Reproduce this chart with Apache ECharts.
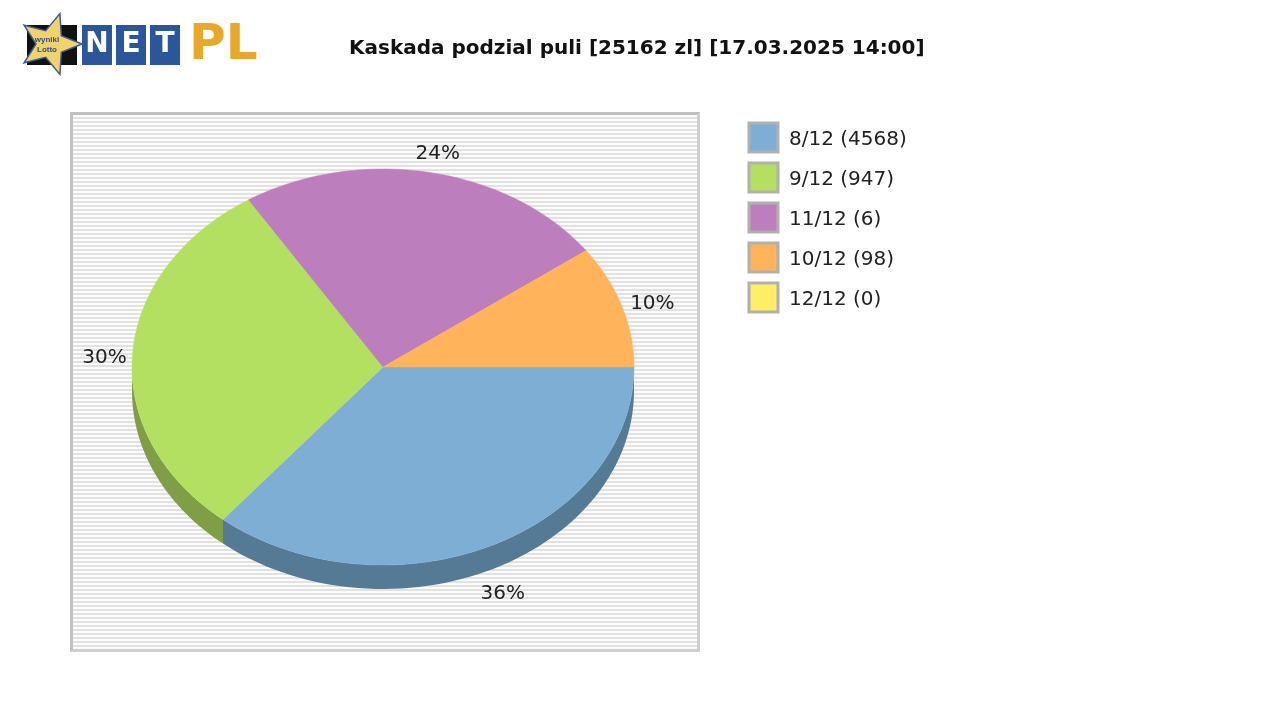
<!DOCTYPE html>
<html><head><meta charset="utf-8">
<script src="https://cdn.jsdelivr.net/npm/echarts@6/dist/echarts.min.js"></script>
<style>
body{margin:0;background:#fff}
#plotbg{position:absolute;left:70px;top:112px;width:624px;height:534px;border-left:3px solid #c0c0c0;border-top:3px solid #c0c0c0;border-right:3px solid #d0d0d0;border-bottom:3px solid #d0d0d0;
background:repeating-linear-gradient(to bottom,#fbfbfb 0,#fbfbfb 2px,#e2e2e2 2px,#e2e2e2 4px)}
#chart{position:absolute;left:0;top:0;width:1280px;height:720px}
</style></head>
<body>
<div id="plotbg"></div>
<div id="chart"></div>
<script>
var names = ['8/12 (4568)', '9/12 (947)', '11/12 (6)', '10/12 (98)', '12/12 (0)'];
var shares = [36, 30, 24, 10, 0];
var topColors = ['#7EAED4', '#B3E060', '#BD7EBD', '#FFB35A', '#FFEE66'];
var sideColors = ['#557A96', '#7F9E45', '#86598A', '#B57F40', '#B5A948'];

var cx = 383, cy = 367, rx = 251, ry = 198, depth = 24;
var FONT = '"DejaVu Sans", Verdana, sans-serif';
var total = shares.reduce(function (a, b) { return a + b; }, 0);
var starts = [], acc = 0;
shares.forEach(function (v) { starts.push(acc / total * 360); acc += v; });

function pt(deg, dy) {
    var r = deg * Math.PI / 180;
    return [cx + rx * Math.cos(r), cy + ry * Math.sin(r) + (dy || 0)];
}
function arc(a0, a1, dy) {
    var pts = [], n = Math.max(2, Math.ceil((a1 - a0) / 2));
    for (var i = 0; i <= n; i++) pts.push(pt(a0 + (a1 - a0) * i / n, dy));
    return pts;
}

var chart = echarts.init(document.getElementById('chart'));

var legend = [];
names.forEach(function (n, i) {
    legend.push({ type: 'rect', shape: { x: 749, y: 123 + i * 40, width: 29, height: 29 },
        style: { fill: topColors[i], stroke: '#b0b0b0', lineWidth: 3 } });
    legend.push({ type: 'text', style: { x: 789, y: 140 + i * 40, text: n, font: '20px ' + FONT,
        fill: '#222', verticalAlign: 'middle' } });
});

var star = [];
for (var k = 0; k < 10; k++) {
    var r = k % 2 ? 14 : 32, a = (k * 36 - 90 + 18 + 72) * Math.PI / 180;
    star.push([50 + r * Math.cos(a), 44 + r * Math.sin(a)]);
}
var logo = [
    { type: 'rect', shape: { x: 27, y: 25, width: 50, height: 40 }, style: { fill: '#111' } },
    { type: 'polygon', shape: { points: star }, style: { fill: '#F2D36B', stroke: '#3a5a9a', lineWidth: 1.5 } },
    { type: 'text', style: { x: 47, y: 36, text: 'wyniki', font: 'bold 8px sans-serif', fill: '#2a4f95', align: 'center' } },
    { type: 'text', style: { x: 47, y: 46, text: 'Lotto', font: 'bold 8px sans-serif', fill: '#2a4f95', align: 'center' } }
];
['N', 'E', 'T'].forEach(function (c, i) {
    logo.push({ type: 'rect', shape: { x: 82 + i * 34, y: 25, width: 30, height: 40 }, style: { fill: '#2B579A' } });
    logo.push({ type: 'text', style: { x: 97 + i * 34, y: 45, text: c, font: 'bold 28px ' + FONT, fill: '#fff',
        align: 'center', verticalAlign: 'middle' } });
});
logo.push({ type: 'text', style: { x: 189, y: 46, text: 'PL', font: 'bold 50px ' + FONT, fill: '#E8A92A', verticalAlign: 'middle' } });

chart.setOption({
    animation: false,
    title: { text: 'Kaskada podzial puli [25162 zl] [17.03.2025 14:00]', left: 344, top: 34,
        textStyle: { fontFamily: FONT, fontSize: 20, fontWeight: 'bold', color: '#111' } },
    graphic: legend.concat(logo),
    series: [{
        type: 'custom',
        coordinateSystem: 'none',
        data: shares,
        renderItem: function (params) {
            var i = params.dataIndex;
            if (!shares[i]) return;
            var a0 = starts[i], a1 = a0 + shares[i] / total * 360;
            var children = [];
            var s = Math.max(a0, 0), e = Math.min(a1, 180);
            if (e > s) {
                var side = arc(s, e, 0).concat(arc(s, e, depth).reverse());
                children.push({ type: 'polygon', z2: 0, shape: { points: side }, style: { fill: sideColors[i] } });
            }
            children.push({ type: 'polygon', z2: 10, shape: { points: [[cx, cy]].concat(arc(a0, a1, 0)) },
                style: { fill: topColors[i], stroke: topColors[i], lineWidth: 0.5 } });
            var m = (a0 + a1) / 2, mr = m * Math.PI / 180, sn = Math.sin(mr);
            children.push({ type: 'text', z2: 20, style: {
                x: cx + rx * 1.12 * Math.cos(mr) + (sn > 0 ? 0 : 2), y: cy + ry * 1.12 * sn + (sn > 0 ? depth + 2 : 5),
                text: shares[i] + '%', font: '20px ' + FONT, fill: '#222', align: 'center', verticalAlign: 'middle' } });
            return { type: 'group', children: children };
        }
    }]
});
</script>
</body></html>
